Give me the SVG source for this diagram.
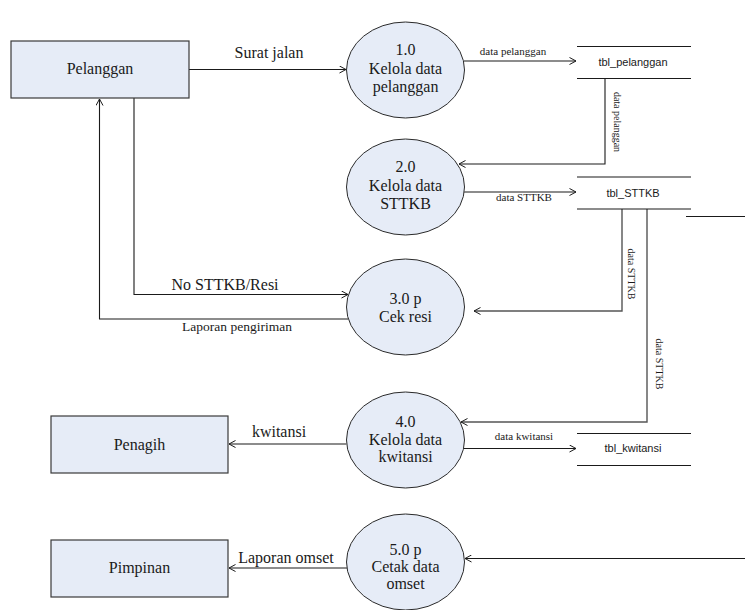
<svg xmlns="http://www.w3.org/2000/svg" width="745" height="610" viewBox="0 0 745 610">
<style>
.ent{fill:#E6ECF7;stroke:#3a3a3a;stroke-width:1.2}
.proc{fill:#E6ECF7;stroke:#2a2a2a;stroke-width:1}
.t16{font-family:"Liberation Serif","Times New Roman",serif;font-size:16px;fill:#1a1a1a;text-anchor:middle}
.t13{font-family:"Liberation Serif","Times New Roman",serif;font-size:13.5px;fill:#1a1a1a;text-anchor:middle}
.t11{font-family:"Liberation Serif","Times New Roman",serif;font-size:11px;fill:#1a1a1a;text-anchor:middle}
.t10{font-family:"Liberation Serif","Times New Roman",serif;font-size:10px;fill:#1a1a1a;text-anchor:middle}
.ts{font-family:"Liberation Sans",Arial,sans-serif;font-size:11px;fill:#1a1a1a;text-anchor:middle}
.ln{fill:none;stroke:#1a1a1a;stroke-width:1.1}
.lg{fill:none;stroke:#555;stroke-width:1.4}
.st{fill:none;stroke:#1a1a1a;stroke-width:1.1}
</style>
<defs>
<marker id="arr" markerWidth="8" markerHeight="8" refX="7" refY="4" orient="auto" markerUnits="userSpaceOnUse">
<path d="M0.5,0.5 L7,4 L0.5,7.5" fill="none" stroke="#1a1a1a" stroke-width="1"/>
</marker>
</defs>

<g id="connectors">
<path class="ln" d="M189,69.5 H346" marker-end="url(#arr)"/>
<path class="ln" d="M464,61 H576" marker-end="url(#arr)"/>
<path class="ln" d="M605,79 V164 H459" marker-end="url(#arr)"/>
<path class="ln" d="M464,192 H576" marker-end="url(#arr)"/>
<path class="lg" d="M622,209 V311 H474" marker-end="url(#arr)"/>
<path class="lg" d="M647,209 V422 H461" marker-end="url(#arr)"/>
<path class="ln" d="M686,216.5 H745"/>
<path class="ln" d="M134,98 V294.5 H348" marker-end="url(#arr)"/>
<path class="ln" d="M348,319 H99.5 V99" marker-end="url(#arr)"/>
<path class="ln" d="M346.5,444 H229" marker-end="url(#arr)"/>
<path class="ln" d="M464,448.5 H576" marker-end="url(#arr)"/>
<path class="ln" d="M347,568 H229" marker-end="url(#arr)"/>
<path class="ln" d="M745,558.5 H465" marker-end="url(#arr)"/>
<text class="t16" x="269" y="58">Surat jalan</text>
<text class="t11" x="513" y="55">data pelanggan</text>
<text class="t10" transform="translate(614,122) rotate(90)">data pelanggan</text>
<text class="t11" x="524" y="201">data STTKB</text>
<text class="t10" transform="translate(628,274) rotate(90)">data STTKB</text>
<text class="t10" transform="translate(656,364) rotate(90)">data STTKB</text>
<text class="t16" x="225" y="290">No STTKB/Resi</text>
<text class="t13" x="237" y="331">Laporan pengiriman</text>
<text class="t16" x="279" y="437">kwitansi</text>
<text class="t11" x="524" y="440">data kwitansi</text>
<text class="t16" x="286" y="563">Laporan omset</text>
</g>

<g id="pelanggan">
<rect class="ent" x="11" y="41" width="178" height="57"/>
<text class="t16" x="100" y="74">Pelanggan</text>
</g>
<g id="penagih">
<rect class="ent" x="51" y="416" width="177" height="57"/>
<text class="t16" x="139.5" y="450">Penagih</text>
</g>
<g id="pimpinan">
<rect class="ent" x="51" y="540" width="177" height="57"/>
<text class="t16" x="139.5" y="573">Pimpinan</text>
</g>

<g id="p1">
<ellipse class="proc" cx="405.5" cy="70" rx="59" ry="48"/>
<text class="t16" x="405.5" y="55">1.0</text>
<text class="t16" x="405.5" y="74">Kelola data</text>
<text class="t16" x="405.5" y="92">pelanggan</text>
</g>
<g id="p2">
<ellipse class="proc" cx="405.5" cy="187" rx="59" ry="48"/>
<text class="t16" x="405.5" y="172">2.0</text>
<text class="t16" x="405.5" y="191">Kelola data</text>
<text class="t16" x="405.5" y="209">STTKB</text>
</g>
<g id="p3">
<ellipse class="proc" cx="405.5" cy="307" rx="59" ry="48"/>
<text class="t16" x="405.5" y="304">3.0 p</text>
<text class="t16" x="405.5" y="322">Cek resi</text>
</g>
<g id="p4">
<ellipse class="proc" cx="405.5" cy="440" rx="59" ry="48"/>
<text class="t16" x="405.5" y="427">4.0</text>
<text class="t16" x="405.5" y="445">Kelola data</text>
<text class="t16" x="405.5" y="462">kwitansi</text>
</g>
<g id="p5">
<ellipse class="proc" cx="405.5" cy="562" rx="59" ry="48"/>
<text class="t16" x="405.5" y="555">5.0 p</text>
<text class="t16" x="405.5" y="572">Cetak data</text>
<text class="t16" x="405.5" y="589">omset</text>
</g>

<g id="tbl_pelanggan">
<path class="st" d="M577,46.5 H691 M577,78.5 H691"/>
<text class="ts" x="633" y="66">tbl_pelanggan</text>
</g>
<g id="tbl_sttkb">
<path class="st" d="M577,177 H691 M577,209 H691"/>
<text class="ts" x="633" y="197">tbl_STTKB</text>
</g>
<g id="tbl_kwitansi">
<path class="st" d="M577,433.5 H691 M577,465.5 H691"/>
<text class="ts" x="633" y="452">tbl_kwitansi</text>
</g>
</svg>
